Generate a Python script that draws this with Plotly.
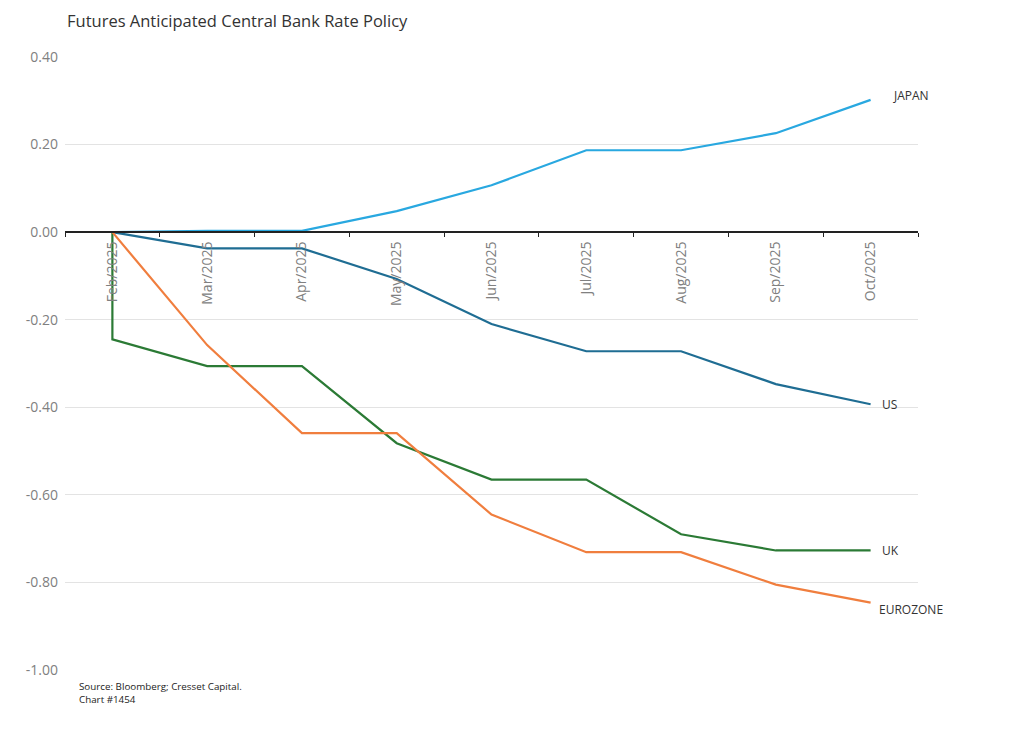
import plotly.graph_objects as go

months = ["Feb/2025", "Mar/2025", "Apr/2025", "May/2025", "Jun/2025",
          "Jul/2025", "Aug/2025", "Sep/2025", "Oct/2025"]

japan = [0.0, 0.003, 0.003, 0.048, 0.107, 0.187, 0.187, 0.226, 0.302]
us = [0.0, -0.037, -0.037, -0.107, -0.21, -0.272, -0.272, -0.347, -0.393]
# UK series has a step at the first month (starts at 0, drops immediately)
uk_x = ["Feb/2025"] + months
uk = [0.0, -0.245, -0.306, -0.306, -0.482, -0.565, -0.565, -0.69, -0.727, -0.727]
eurozone = [0.0, -0.258, -0.459, -0.459, -0.645, -0.731, -0.731, -0.805, -0.846]

y_ticks = [0.4, 0.2, 0.0, -0.2, -0.4, -0.6, -0.8, -1.0]
y_tick_text = ["0.40", "0.20", "0.00", "-0.20", "-0.40", "-0.60", "-0.80", "-1.00"]

FONT = "Open Sans"

fig = go.Figure()
series = [
    ("JAPAN", months, japan, "#29a8e0"),
    ("US", months, us, "#1f6d93"),
    ("UK", uk_x, uk, "#2b7a35"),
    ("EUROZONE", months, eurozone, "#f07e3e"),
]
for name, x, y, color in series:
    fig.add_trace(go.Scatter(x=x, y=y, mode="lines", name=name,
                             line=dict(color=color, width=2.2),
                             hovertemplate=name + "<br>%{x}: %{y:.2f}<extra></extra>"))

# end labels
label_offsets = {"JAPAN": (20, -4), "US": (9, 0), "UK": (9, 0), "EUROZONE": (6, 7)}
for name, x, y, color in series:
    dx, dy = label_offsets[name]
    fig.add_annotation(x=x[-1], y=y[-1], text=name, showarrow=False,
                       xanchor="left", yanchor="middle", xshift=dx, yshift=-dy,
                       font=dict(family=FONT, size=12, color="#333333"))

fig.update_layout(
    width=1024, height=743,
    margin=dict(l=57, r=114, t=49, b=81),
    plot_bgcolor="white", paper_bgcolor="white",
    showlegend=False,
    font=dict(family=FONT, color="#777777"),
)
fig.add_annotation(text="Futures Anticipated Central Bank Rate Policy",
                   xref="paper", yref="paper", x=-0.0, y=1.0, yshift=37,
                   xanchor="left", yanchor="middle", showarrow=False,
                   font=dict(family=FONT, size=16.5, color="#333333"))
fig.add_annotation(text="Source: Bloomberg; Cresset Capital.<br>Chart #1454",
                   xref="paper", yref="paper", x=0.014, y=0, yshift=-8,
                   xanchor="left", yanchor="top", showarrow=False, align="left",
                   font=dict(family=FONT, size=9.8, color="#222222"))

fig.update_xaxes(
    type="category", categoryorder="array", categoryarray=months,
    range=[-0.5, 8.5], anchor="free", position=1 / 1.4,
    showline=True, linecolor="#222222", linewidth=1.5,
    ticks="outside", tickson="boundaries", ticklen=4, tickcolor="#222222",
    tickangle=-90, tickfont=dict(family=FONT, size=14, color="#808080"),
    ticklabelstandoff=3,
    showgrid=False,
)
fig.update_yaxes(
    range=[-1.0, 0.4], tickvals=y_ticks, ticktext=y_tick_text,
    showgrid=True, gridcolor="#e3e3e3", gridwidth=1,
    zeroline=False, showline=False,
    tickfont=dict(family=FONT, size=14, color="#808080"),
    ticklabelstandoff=6,
)

fig.write_html("out.html")
